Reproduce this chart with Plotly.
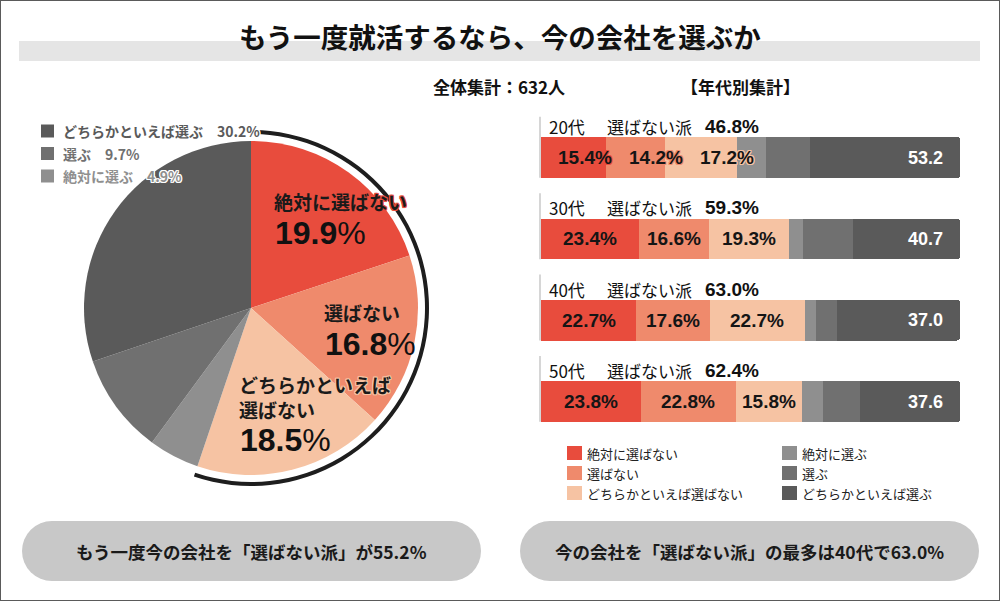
import plotly.graph_objects as go

# overall result (n=632)
total_n = 632
pie_labels = ["絶対に選ばない", "選ばない", "どちらかといえば選ばない",
              "絶対に選ぶ", "選ぶ", "どちらかといえば選ぶ"]
pie_values = [19.9, 16.8, 18.5, 4.9, 9.7, 30.2]

# by age group
ages = ["20代", "30代", "40代", "50代"]
never = [15.4, 23.4, 22.7, 23.8]
wont = [14.2, 16.6, 17.6, 22.8]
rather_wont = [17.2, 19.3, 22.7, 15.8]
definitely = [6.8, 3.2, 2.6, 4.9]
will = [10.7, 11.9, 5.0, 8.9]
rather_will = [35.7, 25.6, 29.4, 23.8]

colors = ["#e84c3d", "#ef8a6c", "#f6c3a3", "#8f8f8f", "#707070", "#5a5a5a"]
JP = "Noto Sans CJK JP"
NUM = "Liberation Sans, Arial, Roboto, sans-serif"
W, H = 1000, 601


def px(x):
    return x / W


def py(y):
    return 1 - y / H


def halo(c, d=1):
    return ", ".join(f"{a}px {b}px 0 {c}" for a in (-d, 0, d) for b in (-d, 0, d) if a or b)


def note(text, x, y, size, color="#111", family=JP, xanchor="center", **kw):
    f = dict(family=family, size=size, color=color)
    f.update(kw)
    return dict(text=text, x=px(x), y=py(y), xref="paper", yref="paper", xanchor=xanchor,
                yanchor="middle", align="left", showarrow=False, font=f)


fig = go.Figure()

# pie
cx, cy, r = 251, 308, 167
fig.add_trace(go.Pie(
    values=pie_values, labels=pie_labels, sort=False, direction="clockwise",
    marker=dict(colors=colors, line=dict(width=0)), textinfo="none",
    domain=dict(x=[px(cx - r), px(cx + r)], y=[py(cy + r), py(cy - r)]),
    showlegend=False, hovertemplate="%{label}: %{value}%<extra></extra>"))

no_share = round(sum(pie_values[:3]), 1)
ro = 178
fig.add_trace(go.Pie(
    values=[no_share, 100 - no_share], sort=False, direction="clockwise",
    hole=174 / ro, marker=dict(colors=["#1e1e1e", "rgba(0,0,0,0)"], line=dict(width=0)),
    textinfo="none", hoverinfo="skip", showlegend=False,
    domain=dict(x=[px(cx - ro), px(cx + ro)], y=[py(cy + ro), py(cy - ro)])))

# stacked bars
series = [never, wont, rather_wont, definitely, will, rather_will]
for name, vals, c in zip(pie_labels, series, colors):
    fig.add_trace(go.Bar(
        y=ages, x=vals, orientation="h", name=name, marker=dict(color=c, line=dict(width=0)),
        width=0.5, showlegend=False, hovertemplate=name + ": %{x}%<extra></extra>"))

ann = []
shapes = []

# frame, title band
shapes.append(dict(type="rect", xref="paper", yref="paper", x0=0, x1=1, y0=0, y1=1,
                   line=dict(color="#5a5a5a", width=2), layer="above"))
shapes.append(dict(type="rect", xref="paper", yref="paper", x0=px(19), x1=px(980),
                   y0=py(61), y1=py(41), fillcolor="#e5e5e5", line=dict(width=0), layer="below"))
ann.append(note("もう一度就活するなら、今の会社を選ぶか", 500, 36, 27.5, weight="bold"))
ann.append(note(f"全体集計：{total_n}人", 499, 87, 17, weight="bold"))
ann.append(note("【年代別集計】", 740, 87, 17, weight="bold"))

# pie legend (選ぶ side)
for k, idx in enumerate([5, 4, 3]):
    yc = 131 + k * 22.5
    shapes.append(dict(type="rect", xref="paper", yref="paper", x0=px(41), x1=px(54),
                       y0=py(yc + 6.5), y1=py(yc - 6.5), fillcolor=colors[idx], line=dict(width=0)))
    ann.append(note(f"{pie_labels[idx]}　{pie_values[idx]}%", 61, yc, 14, colors[idx],
                    xanchor="left", weight="bold", shadow=halo("white")))

# pie labels (選ばない side)
pie_text = ["絶対に選ばない", "選ばない", "どちらかといえば<br>選ばない"]
pie_pos = [(272, 202, 233), (322, 312, 344), (237, 397, 440)]
for k, (x0, yt, yn) in enumerate(pie_pos):
    ann.append(note(pie_text[k], x0, yt, 19, "#1a1a1a", xanchor="left", weight="bold",
                    shadow=halo(colors[k])))
    ann.append(note(f"{pie_values[k]}<span style='font-weight:400'>%</span>", x0 + 1, yn, 32,
                    family=NUM, xanchor="left", weight="bold"))

# bar headers & labels
for i, age in enumerate(ages):
    vals = [s[i] for s in series]
    no_i = round(sum(vals[:3]), 1)
    shapes.append(dict(type="line", xref="paper", yref="y", x0=px(540), x1=px(540),
                       y0=i + 0.25, y1=i - 0.56, line=dict(color="#c8c8c8", width=1.5)))
    head = dict(x=0, y=age, xref="x", yref="y", xanchor="left", yanchor="middle", yshift=31,
                showarrow=False)
    ann.append(dict(head, text=age, xshift=6, font=dict(family=JP, size=17, color="#111")))
    ann.append(dict(head, text="選ばない派", xshift=64, font=dict(family=JP, size=17, color="#111")))
    ann.append(dict(head, text=f"{no_i:.1f}%", xshift=162,
                    font=dict(family=NUM, size=19, color="#111", weight="bold")))
    start, prev = 0, None
    for j in range(3):
        mid = start + vals[j] / 2
        xl = max(mid, 10.5) if prev is None else max(mid, prev + 17)
        ann.append(dict(text=f"{vals[j]:.1f}%", x=xl, y=age, xref="x", yref="y", showarrow=False,
                        xanchor="center", yanchor="middle",
                        font=dict(family=NUM, size=19, color="#151515", weight="bold",
                                  shadow=halo(colors[j]))))
        prev = xl
        start += vals[j]
    ann.append(dict(text=f"{100 - no_i:.1f}", x=96.3, y=age, xref="x", yref="y", xanchor="right",
                    yanchor="middle", showarrow=False,
                    font=dict(family=NUM, size=18, color="white", weight="bold")))

# bar legend
for k in range(6):
    col, row = divmod(k, 3)
    xs = 567 if col == 0 else 782
    yc = 453 + row * 20
    shapes.append(dict(type="rect", xref="paper", yref="paper", x0=px(xs), x1=px(xs + 15),
                       y0=py(yc + 7), y1=py(yc - 7), fillcolor=colors[k], line=dict(width=0)))
    ann.append(note(pie_labels[k], xs + 18, yc, 13, "#222", xanchor="left"))

# summary pills
max_i = max(range(len(ages)), key=lambda i: never[i] + wont[i] + rather_wont[i])
max_no = never[max_i] + wont[max_i] + rather_wont[max_i]
pills = [(22, 481, f"もう一度今の会社を「選ばない派」が{no_share:.1f}%"),
         (520, 979, f"今の会社を「選ばない派」の最多は{ages[max_i]}で{max_no:.1f}%")]
for x0, x1, txt in pills:
    y0, y1, rr = 521, 581, 30
    for a, b in ((x0, x0 + 2 * rr), (x1 - 2 * rr, x1)):
        shapes.append(dict(type="circle", xref="paper", yref="paper", x0=px(a), x1=px(b),
                           y0=py(y1), y1=py(y0), fillcolor="#c8c8c8", line=dict(width=0), layer="below"))
    shapes.append(dict(type="rect", xref="paper", yref="paper", x0=px(x0 + rr), x1=px(x1 - rr),
                       y0=py(y1), y1=py(y0), fillcolor="#c8c8c8", line=dict(width=0), layer="below"))
    ann.append(note(txt, (x0 + x1) / 2, 551, 17.5, "#1a1a1a", weight="bold"))

bar_top, bar_bot = 157.5 - 40.67, 401.5 + 40.67
fig.update_layout(
    width=W, height=H, margin=dict(l=0, r=0, t=0, b=0),
    paper_bgcolor="white", plot_bgcolor="white",
    barmode="stack", barcornerradius=3,
    xaxis=dict(domain=[px(541), px(960)], range=[0, 100], visible=False, fixedrange=True),
    yaxis=dict(domain=[py(bar_bot), py(bar_top)], range=[3.5, -0.5], visible=False,
               categoryorder="array", categoryarray=ages, fixedrange=True),
    annotations=ann, shapes=shapes,
)

fig.write_html("out.html", config={"displayModeBar": False},
               post_script="document.body.style.margin='0';")
